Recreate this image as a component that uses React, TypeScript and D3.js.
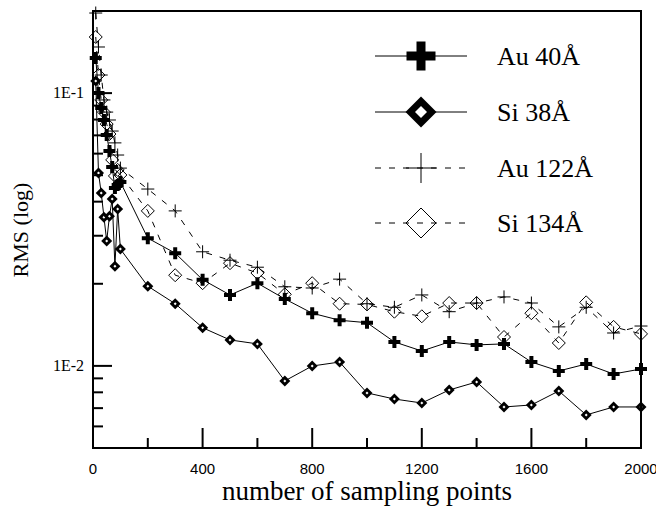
import React from "react";
import * as d3 from "d3";

// sampling points (x) shared by all four series
const samplePoints = [
  10, 20, 30, 40, 50, 60, 70, 80, 90, 100, 200, 300, 400, 500, 600, 700, 800,
  900, 1000, 1100, 1200, 1300, 1400, 1500, 1600, 1700, 1800, 1900, 2000,
];

const au40 = [
  0.1345, 0.1001, 0.0882, 0.0797, 0.0702, 0.0613, 0.0536, 0.0449, 0.046,
  0.0472, 0.0294, 0.0259, 0.0207, 0.0182, 0.0201, 0.0176, 0.0156, 0.0147,
  0.0144, 0.01224, 0.01134, 0.01224, 0.01194, 0.01204, 0.01033, 0.00958,
  0.01016, 0.00934, 0.00974,
];

const si38 = [
  0.1107, 0.051, 0.043, 0.0351, 0.0287, 0.0354, 0.0409, 0.0232, 0.0376,
  0.0268, 0.0196, 0.0169, 0.0138, 0.01245, 0.01204, 0.00881, 0.00999,
  0.01033, 0.00796, 0.00756, 0.00731, 0.00816, 0.00873, 0.00707, 0.00719,
  0.00809, 0.00661, 0.00707, 0.00707,
];

const au122 = [
  0.1966, 0.1476, 0.1165, 0.0944, 0.0852, 0.0797, 0.0726, 0.0657, 0.0593,
  0.0531, 0.0445, 0.037, 0.0262, 0.0244, 0.023, 0.0195, 0.0193, 0.0208,
  0.0169, 0.0164, 0.0182, 0.0158, 0.017, 0.0179, 0.017, 0.0139, 0.0164,
  0.0132, 0.014,
];

const si134 = [
  0.1606, 0.1165, 0.0944, 0.0852, 0.077, 0.0708, 0.0569, 0.0497, 0.0523,
  0.0501, 0.037, 0.0215, 0.0201, 0.0238, 0.0219, 0.0183, 0.0201, 0.0169,
  0.0168, 0.0158, 0.0152, 0.017, 0.017, 0.01276, 0.0156, 0.01213, 0.0171,
  0.0139, 0.0131,
];

const seriesNames = ["Au 40Å", "Si 38Å", "Au 122Å", "Si 134Å"];

const xTicks = [0, 200, 400, 600, 800, 1000, 1200, 1400, 1600, 1800, 2000];
const xTickLabels = [0, 400, 800, 1200, 1600, 2000];
const yMajor = [0.1, 0.01];
const yMajorLabels = ["1E-1", "1E-2"];
const yMinor = [
  0.006, 0.007, 0.008, 0.009, 0.02, 0.03, 0.04, 0.05, 0.06, 0.07, 0.08, 0.09,
];

const W = 656,
  H = 510;
const left = 93,
  right = 641,
  top = 11,
  bottom = 448;

const x = d3.scaleLinear().domain([0, 2000]).range([left, right]);
const y = d3.scaleLog().domain([0.005, 0.2]).range([bottom, top]);

const thickCross = (cx: number, cy: number, s: number, t: number) => {
  const a = s / 2,
    b = t / 2;
  return `M${cx - b},${cy - a}H${cx + b}V${cy - b}H${cx + a}V${cy + b}H${cx + b}V${cy + a}H${cx - b}V${cy + b}H${cx - a}V${cy - b}H${cx - b}Z`;
};
const diamond = (cx: number, cy: number, s: number) => {
  const a = s / 2;
  return `M${cx},${cy - a}L${cx + a},${cy}L${cx},${cy + a}L${cx - a},${cy}Z`;
};
const plus = (cx: number, cy: number, s: number) => {
  const a = s / 2;
  return `M${cx - a},${cy}H${cx + a}M${cx},${cy - a}V${cy + a}`;
};

const Marker = ({ kind, cx, cy, big }: any) => {
  if (kind === 0)
    return <path d={thickCross(cx, cy, big ? 29 : 12, big ? 9 : 4)} fill="#000" />;
  if (kind === 1)
    return (
      <g>
        <path d={diamond(cx, cy, big ? 31 : 11)} fill="#000" />
        <path d={diamond(cx, cy, big ? 12 : 3)} fill="#fff" />
      </g>
    );
  if (kind === 2)
    return <path d={plus(cx, cy, big ? 30 : 13)} stroke="#000" strokeWidth={1} fill="none" />;
  return <path d={diamond(cx, cy, big ? 30 : 13)} stroke="#000" strokeWidth={1} fill="none" />;
};

const App = () => {
  const allSeries = [au40, si38, au122, si134];
  const line = d3
    .line<number>()
    .x((_, i) => x(samplePoints[i]))
    .y((d) => y(d));

  const legendY = [56, 112, 168, 223];

  return (
    <svg
      width={W}
      height={H}
      style={{ position: "absolute", left: 0, top: 0, background: "#fff" }}
    >
      {/* series */}
      {allSeries.map((vals, k) => (
        <g key={k}>
          <path
            d={line(vals) || ""}
            fill="none"
            stroke="#000"
            strokeWidth={1}
            strokeDasharray={k >= 2 ? "6,8" : undefined}
          />
          {vals.map((v, i) => (
            <Marker key={i} kind={k} cx={x(samplePoints[i])} cy={y(v)} />
          ))}
        </g>
      ))}

      {/* frame */}
      <rect
        x={left}
        y={top}
        width={right - left}
        height={bottom - top}
        fill="none"
        stroke="#000"
        strokeWidth={2}
      />

      {/* x ticks */}
      {xTicks.map((t) => (
        <line
          key={t}
          x1={x(t)}
          x2={x(t)}
          y1={bottom}
          y2={bottom - (t % 400 === 0 ? 20 : 10)}
          stroke="#000"
          strokeWidth={2}
        />
      ))}
      {xTickLabels.map((t) => (
        <text
          key={t}
          x={x(t)}
          y={474}
          textAnchor="middle"
          fontFamily="Liberation Sans, Arial, sans-serif"
          fontSize={15}
        >
          {t}
        </text>
      ))}

      {/* y ticks */}
      {yMajor.map((t, i) => (
        <g key={t}>
          <line x1={left} x2={left + 19} y1={y(t)} y2={y(t)} stroke="#000" strokeWidth={2} />
          <text
            x={84}
            y={y(t) + 5}
            textAnchor="end"
            fontFamily="Liberation Serif, Times New Roman, serif"
            fontSize={16}
          >
            {yMajorLabels[i]}
          </text>
        </g>
      ))}
      {yMinor.map((t) => (
        <line key={t} x1={left} x2={left + 10} y1={y(t)} y2={y(t)} stroke="#000" strokeWidth={2} />
      ))}

      {/* axis titles */}
      <text
        x={(left + right) / 2}
        y={500}
        textAnchor="middle"
        fontFamily="Liberation Serif, Times New Roman, serif"
        fontSize={27}
      >
        number of sampling points
      </text>
      <text
        transform={`translate(28,230) rotate(-90)`}
        textAnchor="middle"
        fontFamily="Liberation Serif, Times New Roman, serif"
        fontSize={22}
      >
        RMS (log)
      </text>

      {/* legend */}
      {seriesNames.map((name, k) => (
        <g key={name}>
          <line
            x1={375}
            x2={467}
            y1={legendY[k]}
            y2={legendY[k]}
            stroke="#000"
            strokeWidth={1}
            strokeDasharray={k >= 2 ? "6,8" : undefined}
          />
          <Marker kind={k} cx={421} cy={legendY[k]} big />
          <text
            x={497}
            y={legendY[k] + 9}
            fontFamily="Liberation Serif, Times New Roman, serif"
            fontSize={26}
          >
            {name}
          </text>
        </g>
      ))}
    </svg>
  );
};

export default App;
